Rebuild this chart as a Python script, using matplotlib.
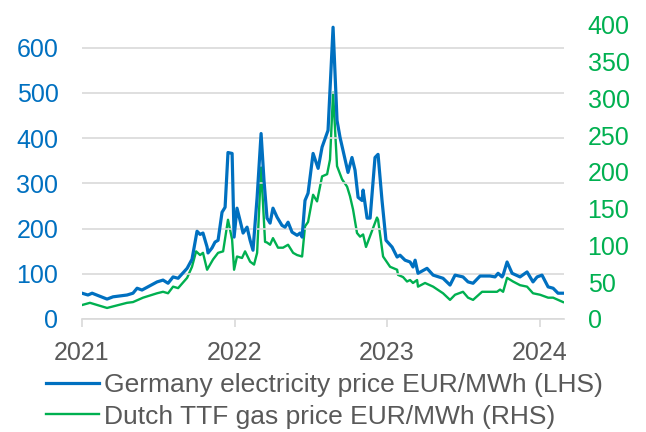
import matplotlib
matplotlib.use("Agg")
import matplotlib.pyplot as plt

plt.rcParams['font.family'] = ['Liberation Sans', 'DejaVu Sans']

# ------------------------------------------------------------
# data (x in decimal years)
elec_year = [2021.000, 2021.039, 2021.066, 2021.164, 2021.203, 2021.295, 2021.334,
             2021.361, 2021.393, 2021.426, 2021.492, 2021.531, 2021.564, 2021.597,
             2021.630, 2021.689, 2021.721, 2021.754, 2021.774, 2021.793, 2021.820,
             2021.826, 2021.852, 2021.872, 2021.892, 2021.918, 2021.938, 2021.957,
             2021.984, 2021.997, 2022.016, 2022.036, 2022.056, 2022.082, 2022.102,
             2022.121, 2022.148, 2022.174, 2022.193, 2022.213, 2022.233, 2022.252,
             2022.279, 2022.311, 2022.331, 2022.351, 2022.377, 2022.410, 2022.430,
             2022.443, 2022.462, 2022.482, 2022.515, 2022.548, 2022.574, 2022.613,
             2022.646, 2022.672, 2022.692, 2022.711, 2022.744, 2022.770, 2022.790,
             2022.810, 2022.836, 2022.843, 2022.869, 2022.889, 2022.921, 2022.941,
             2022.967, 2022.993, 2023.033, 2023.066, 2023.085, 2023.118, 2023.151,
             2023.170, 2023.184, 2023.203, 2023.262, 2023.302, 2023.367, 2023.413,
             2023.446, 2023.498, 2023.531, 2023.564, 2023.610, 2023.675, 2023.708,
             2023.728, 2023.754, 2023.761, 2023.787, 2023.820, 2023.872, 2023.918,
             2023.957, 2023.984, 2024.016, 2024.056, 2024.089, 2024.121, 2024.154]
elec = [57, 53, 57, 44, 49, 53, 57,
        68, 64, 70, 82, 86, 79, 93,
        90, 112, 132, 194, 187, 190, 159,
        146, 157, 170, 174, 236, 247, 368,
        366, 181, 245, 218, 190, 203, 174,
        152, 269, 410, 307, 223, 212, 245,
        225, 207, 203, 214, 192, 185, 190,
        181, 262, 278, 366, 333, 380, 417,
        645, 439, 401, 373, 324, 357, 329,
        269, 262, 285, 223, 223, 357, 364,
        262, 174, 159, 137, 141, 130, 126,
        115, 130, 101, 112, 97, 90, 75,
        97, 93, 82, 79, 95, 95, 93,
        101, 93, 97, 126, 101, 93, 104,
        82, 93, 97, 71, 68, 57, 57]

gas_year = [2021.000, 2021.052, 2021.164, 2021.295, 2021.334, 2021.400, 2021.492,
            2021.531, 2021.564, 2021.597, 2021.630, 2021.689, 2021.721, 2021.748,
            2021.774, 2021.793, 2021.820, 2021.859, 2021.892, 2021.925, 2021.957,
            2021.984, 2021.997, 2022.016, 2022.049, 2022.069, 2022.102, 2022.128,
            2022.148, 2022.174, 2022.200, 2022.213, 2022.233, 2022.252, 2022.285,
            2022.318, 2022.351, 2022.384, 2022.410, 2022.443, 2022.462, 2022.482,
            2022.515, 2022.541, 2022.574, 2022.607, 2022.626, 2022.646, 2022.672,
            2022.705, 2022.738, 2022.757, 2022.777, 2022.803, 2022.823, 2022.843,
            2022.862, 2022.934, 2022.941, 2022.974, 2023.020, 2023.066, 2023.072,
            2023.105, 2023.131, 2023.151, 2023.170, 2023.197, 2023.203, 2023.249,
            2023.302, 2023.367, 2023.413, 2023.446, 2023.498, 2023.531, 2023.564,
            2023.623, 2023.675, 2023.721, 2023.741, 2023.761, 2023.787, 2023.826,
            2023.872, 2023.918, 2023.957, 2024.003, 2024.056, 2024.089, 2024.154]
gas = [19, 22, 15, 22, 23, 29, 35,
       37, 35, 44, 42, 56, 71, 92,
       87, 90, 67, 81, 90, 92, 135,
       108, 67, 85, 83, 92, 78, 74,
       90, 206, 105, 104, 101, 110, 97,
       97, 101, 90, 87, 85, 126, 132,
       169, 160, 194, 197, 217, 308, 208,
       190, 180, 167, 149, 117, 112, 115,
       98, 138, 135, 85, 71, 67, 60,
       57, 51, 53, 49, 53, 44, 49,
       44, 35, 26, 33, 37, 29, 26,
       37, 37, 37, 40, 37, 56, 51,
       46, 44, 35, 33, 29, 29, 23]

years = [2021, 2022, 2023, 2024]
left_ticks = [0, 100, 200, 300, 400, 500, 600]
right_ticks = [0, 50, 100, 150, 200, 250, 300, 350, 400]

blue = '#0070C0'
green = '#00B050'
grey = '#595959'

# ------------------------------------------------------------
fig = plt.figure(figsize=(6.46, 4.32), dpi=100)
ax = fig.add_axes([0.127, 0.2616, 0.746, 0.6806])
ax2 = ax.twinx()

l1, = ax.plot(elec_year, elec, color=blue, lw=2.3, zorder=3,
              label='Germany electricity price EUR/MWh (LHS)')
l2, = ax2.plot(gas_year, gas, color=green, lw=1.7, zorder=2,
               label='Dutch TTF gas price EUR/MWh (RHS)')
ax.set_zorder(ax2.get_zorder() + 1)
ax.patch.set_visible(False)

ax.set_xlim(2021, 2024.16)
ax.set_ylim(0, 650)
ax2.set_ylim(0, 400)
ax.set_yticks(left_ticks)
ax2.set_yticks(right_ticks)
ax.set_xticks(years)
ax.set_xticklabels([str(y) for y in years])

ax.grid(axis='y', color='#D9D9D9', lw=1.2)
ax.set_axisbelow(True)

for a in (ax, ax2):
    for s in ('top', 'left', 'right'):
        a.spines[s].set_visible(False)
ax2.spines['bottom'].set_visible(False)
ax.spines['bottom'].set_color('#D9D9D9')
ax.spines['bottom'].set_linewidth(1.2)

ax.tick_params(axis='y', length=0, pad=17, labelsize=18, labelcolor=blue)
ax2.tick_params(axis='y', length=0, pad=17, labelsize=18, labelcolor=green)
ax.tick_params(axis='x', direction='out', length=6, width=1.2, color='#D9D9D9',
               pad=10, labelsize=18, labelcolor=grey)

leg = fig.legend(handles=[l1, l2], loc='upper left', bbox_to_anchor=(0.071, 0.137),
                 frameon=False, fontsize=19, handlelength=2.0, handletextpad=0.22,
                 labelspacing=0.3, borderaxespad=0, borderpad=0)
for t in leg.get_texts():
    t.set_color(grey)

fig.savefig('out.png', dpi=100)
